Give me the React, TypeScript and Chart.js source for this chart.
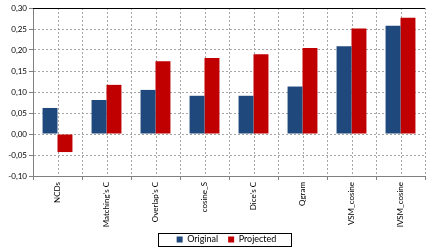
import React, { useEffect, useRef } from "react";
import { Chart, registerables } from "chart.js";

Chart.register(...registerables);

const categories = ["NCDs", "Matching's C", "Overlap's C", "cosine_S", "Dice's C", "Qgram", "VSM_cosine", "IVSM_cosine"];
const originalValues = [0.062, 0.081, 0.105, 0.091, 0.091, 0.113, 0.209, 0.258];
const projectedValues = [-0.043, 0.117, 0.173, 0.181, 0.190, 0.205, 0.251, 0.277];
const yMin = -0.1;
const yMax = 0.3;
const yStep = 0.05;

const FONT = "Lato, 'Liberation Sans', sans-serif";
const LEGEND_DX = 14;
const LEGEND_DY = 2;

const extrasPlugin = {
  id: "extras",
  afterLayout(chart: any) {
    const lg = chart.legend;
    if (lg) {
      lg.left += LEGEND_DX;
      lg.right += LEGEND_DX;
      lg.top += LEGEND_DY;
      lg.bottom += LEGEND_DY;
    }
    if (chart.scales.x) chart.scales.x.bottom = chart.height;
  },
  beforeDatasetsDraw(chart: any) {
    const { ctx, chartArea, scales } = chart;
    const x = scales.x;
    ctx.save();
    ctx.strokeStyle = "#a6a6a6";
    ctx.lineWidth = 1;
    ctx.setLineDash([2, 2]);
    for (let i = 0; i < categories.length; i++) {
      const px = Math.round(x.getPixelForTick(i)) + 0.5;
      ctx.beginPath();
      ctx.moveTo(px, chartArea.top);
      ctx.lineTo(px, chartArea.bottom);
      ctx.stroke();
    }
    ctx.restore();
  },
  afterDraw(chart: any) {
    const { ctx, chartArea } = chart;
    ctx.save();
    ctx.strokeStyle = "#000";
    ctx.lineWidth = 1;
    ctx.beginPath();
    ctx.moveTo(chartArea.left, Math.round(chartArea.top) + 0.5);
    ctx.lineTo(chartArea.right, Math.round(chartArea.top) + 0.5);
    ctx.stroke();
    const boxes = chart.legend?.legendHitBoxes;
    if (boxes && boxes.length) {
      const first = boxes[0];
      const last = boxes[boxes.length - 1];
      const l = Math.round(first.left - 19) + 0.5;
      const r = Math.round(last.left + last.width + 15) + 0.5;
      const cy = first.top + first.height / 2;
      const t = Math.round(cy - 7) + 0.5;
      ctx.strokeStyle = "#000";
      ctx.lineWidth = 1;
      ctx.strokeRect(l, t, r - l, 13);
    }
    ctx.restore();
  },
};

export default function App() {
  const ref = useRef<HTMLCanvasElement | null>(null);
  useEffect(() => {
    if (!ref.current) return;
    const chart = new Chart(ref.current, {
      type: "bar",
      data: {
        labels: categories,
        datasets: [
          {
            label: "Original",
            data: originalValues,
            backgroundColor: "#1f497d",
            categoryPercentage: 0.61,
            barPercentage: 1,
          },
          {
            label: "Projected",
            data: projectedValues,
            backgroundColor: "#c00000",
            categoryPercentage: 0.61,
            barPercentage: 1,
          },
        ],
      },
      options: {
        animation: false,
        responsive: false,
        maintainAspectRatio: false,
        layout: { padding: { top: 8, right: 2, bottom: 0, left: 0 } },
        plugins: {
          tooltip: { enabled: false },
          legend: {
            position: "bottom",
            labels: {
              boxWidth: 6,
              boxHeight: 6,
              padding: 10,
              color: "#000",
              font: { family: FONT, size: 9 },
            },
          },
        },
        scales: {
          x: {
            offset: true,
            grid: {
              offset: true,
              color: "#a6a6a6",
              tickBorderDash: [],
              tickColor: "#808080",
              tickLength: 4,
            } as any,
            border: { color: "#808080", dash: [2, 2] } as any,
            ticks: {
              minRotation: 90,
              maxRotation: 90,
              autoSkip: false,
              color: "#000",
              padding: 2,
              font: { family: FONT, size: 8 },
            },
            afterFit(scale: any) {
              scale.height = 47;
            },
          },
          y: {
            min: yMin,
            max: yMax,
            grid: {
              color: "#a6a6a6",
              tickColor: "#808080",
              tickLength: 4,
            },
            border: { color: "#808080", dash: [2, 2] } as any,
            ticks: {
              stepSize: yStep,
              color: "#000",
              padding: 2,
              font: { family: FONT, size: 8 },
              callback: (v: any) => Number(v).toFixed(2).replace(".", ","),
            },
            afterFit(scale: any) {
              scale.width = 33;
            },
          },
        },
      },
      plugins: [extrasPlugin],
    });
    return () => chart.destroy();
  }, []);
  return (
    <div style={{ position: "fixed", left: 0, top: 0, width: 427, height: 252, background: "#fff" }}>
      <canvas ref={ref} width={427} height={252} />
    </div>
  );
}
